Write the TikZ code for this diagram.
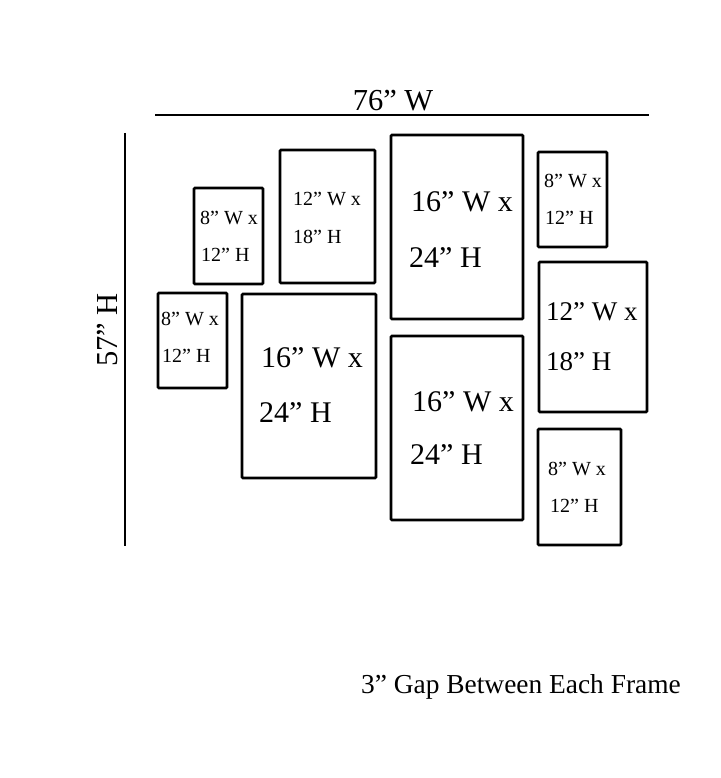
\documentclass[tikz,border=0pt]{standalone}
\usepackage{fontspec}
\setmainfont{Liberation Serif}
\begin{document}
\begin{tikzpicture}[x=1pt,y=-1pt,
  framebox/.style={draw=black,line width=2.7pt,rounded corners=1pt},
  ruler/.style={draw=black,line width=2.9pt},
  lbl/.style={anchor=west,inner sep=0pt,text=black},
  small/.style={lbl,font=\fontsize{20}{20}\selectfont},
  mid/.style={lbl,font=\fontsize{27}{27}\selectfont},
  big/.style={lbl,font=\fontsize{30}{30}\selectfont}]
\useasboundingbox (0,0) rectangle (720,778);
% rulers
\coordinate (hl) at (155,115); \coordinate (hr) at (649,115);
\coordinate (vt) at (125,133); \coordinate (vb) at (125,546);
\draw[ruler] (hl) -- (hr);
\draw[ruler] (vt) -- (vb);
\node[inner sep=0pt,font=\fontsize{30.5}{30.5}\selectfont] (wlab) at (393,101) {76” W};
\node[inner sep=0pt,rotate=90,font=\fontsize{30.5}{30.5}\selectfont] (hlab) at (108,330) {57” H};
% frames
\draw[framebox] (194,188) rectangle (263,284);
\draw[framebox] (280,150) rectangle (375,283);
\draw[framebox] (391,135) rectangle (523,319);
\draw[framebox] (538,152) rectangle (607,247);
\draw[framebox] (539,262) rectangle (647,412);
\draw[framebox] (158,293) rectangle (227,388);
\draw[framebox] (242,294) rectangle (376,478);
\draw[framebox] (391,336) rectangle (523,520);
\draw[framebox] (538,429) rectangle (621,545);
% labels
\node[small] (t1a) at (200,218) {8” W x};
\node[small] (t1b) at (201,255) {12” H};
\node[small] (t2a) at (293,199) {12” W x};
\node[small] (t2b) at (293,237) {18” H};
\node[big] (t3a) at (411,202) {16” W x};
\node[big] (t3b) at (409,258) {24” H};
\node[small] (t4a) at (544,181) {8” W x};
\node[small] (t4b) at (545,218) {12” H};
\node[mid] (t5a) at (546,312) {12” W x};
\node[mid] (t5b) at (546,362) {18” H};
\node[small] (t6a) at (161,319) {8” W x};
\node[small] (t6b) at (162,356) {12” H};
\node[big] (t7a) at (261,358) {16” W x};
\node[big] (t7b) at (259,413) {24” H};
\node[big] (t8a) at (412,402) {16” W x};
\node[big] (t8b) at (410,455) {24” H};
\node[small] (t9a) at (548,469) {8” W x};
\node[small] (t9b) at (550,506) {12” H};
\node[anchor=base west,inner sep=0pt,font=\fontsize{27.4}{27.4}\selectfont] (note) at (361,693) {3” Gap Between Each Frame};
\end{tikzpicture}
\end{document}
